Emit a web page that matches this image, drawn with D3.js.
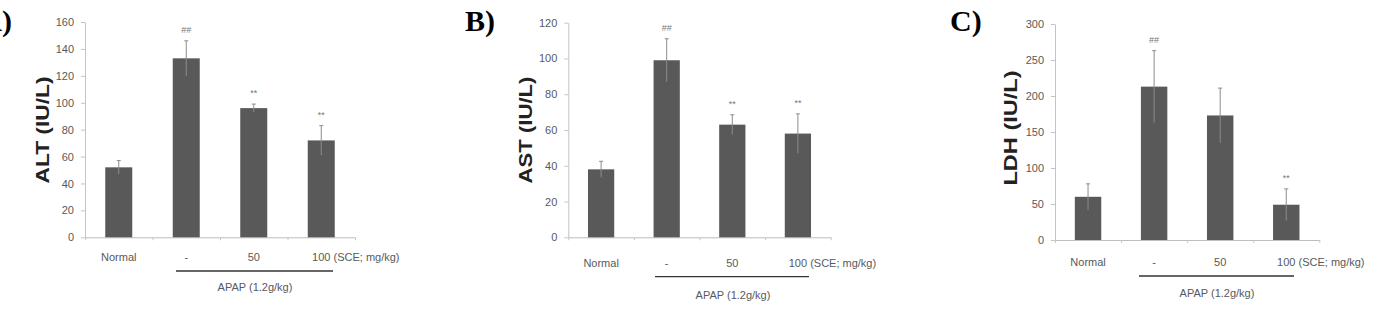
<!DOCTYPE html>
<html>
<head>
<meta charset="utf-8">
<script src="https://cdn.jsdelivr.net/npm/d3@7"></script>
<style>
  html, body { margin: 0; padding: 0; background: #fff; }
  svg { display: block; }
</style>
</head>
<body>
<svg id="chart" width="1378" height="309"></svg>
<script>
// ---------- data ----------
const categories = ["Normal", "-", "50", "100"];
const doseSuffix = " (SCE; mg/kg)";
const groupLabel = "APAP (1.2g/kg)";

const altValues = [52, 133, 96, 72];
const altErrors = [5, 13, 3, 11];
const altMarks  = ["", "##", "**", "**"];
const altTicks  = [0, 20, 40, 60, 80, 100, 120, 140, 160];

const astValues = [38, 99, 63, 58];
const astErrors = [4.5, 12, 5.5, 11];
const astMarks  = ["", "##", "**", "**"];
const astTicks  = [0, 20, 40, 60, 80, 100, 120];

const ldhValues = [60, 213, 173, 49];
const ldhErrors = [18, 50, 38, 22];
const ldhMarks  = ["", "##", "", "**"];
const ldhTicks  = [0, 50, 100, 150, 200, 250, 300];

const panelLetters = ["A)", "B)", "C)"];
const yTitles = ["ALT (IU/L)", "AST (IU/L)", "LDH (IU/L)"];

// ---------- layout ----------
const panels = [
  { values: altValues, errors: altErrors, marks: altMarks, ticks: altTicks,
    x0: 85, x1: 355, yTop: 22, yBot: 237.3,
    titleX: 42, titleY: 130, titleLen: 107,
    catY: 257, lineX0: 176, lineX1: 333, lineY: 271, grpX: 255, grpY: 287,
    letterX: 12, letterAnchor: "end" },
  { values: astValues, errors: astErrors, marks: astMarks, ticks: astTicks,
    x0: 568.3, x1: 830.7, yTop: 22.7, yBot: 237.3,
    titleX: 525, titleY: 130, titleLen: 107,
    catY: 263, lineX0: 655, lineX1: 809, lineY: 276.7, grpX: 733, grpY: 295,
    letterX: 465, letterAnchor: "start" },
  { values: ldhValues, errors: ldhErrors, marks: ldhMarks, ticks: ldhTicks,
    x0: 1055, x1: 1319.3, yTop: 24, yBot: 240,
    titleX: 1010, titleY: 128, titleLen: 115,
    catY: 261.7, lineX0: 1139, lineX1: 1294, lineY: 276, grpX: 1217, grpY: 293.3,
    letterX: 950, letterAnchor: "start" }
];

const svg = d3.select("#chart");
const textColor = "#595959";
const fontFam = "'Liberation Sans', Arial, sans-serif";

panels.forEach((p, i) => {
  const g = svg.append("g");
  const ticks = p.ticks;
  const y = d3.scaleLinear().domain([0, ticks[ticks.length - 1]]).range([p.yBot, p.yTop]);
  const x = d3.scaleBand().domain(categories).range([p.x0, p.x1])
    .paddingInner(0.6).paddingOuter(0.3);

  // y axis
  const ya = g.append("g").attr("transform", `translate(${p.x0},0)`)
    .call(d3.axisLeft(y).tickValues(ticks).tickSize(4).tickPadding(7).tickSizeOuter(0));
  ya.select(".domain").attr("stroke", "#c4c4c4");
  ya.selectAll(".tick line").attr("stroke", "#c4c4c4");
  ya.selectAll(".tick text").attr("fill", textColor).attr("font-size", 11)
    .attr("font-family", fontFam);

  // x axis line with boundary ticks
  const xb = d3.scaleLinear().domain([0, categories.length]).range([p.x0, p.x1]);
  const xa = g.append("g").attr("transform", `translate(0,${p.yBot})`)
    .call(d3.axisBottom(xb).ticks(categories.length).tickFormat("").tickSize(3).tickSizeOuter(0));
  xa.select(".domain").attr("stroke", "#bdbdbd");
  xa.selectAll(".tick line").attr("stroke", "#c8c8c8");

  // category labels
  const ca = g.append("g").attr("transform", `translate(0,${p.catY})`)
    .call(d3.axisBottom(x).tickSize(0).tickPadding(0));
  ca.select(".domain").remove();
  ca.selectAll(".tick text").attr("fill", textColor).attr("font-size", 11)
    .attr("font-family", fontFam).attr("dy", "0.35em").attr("y", 0);
  ca.selectAll(".tick text").filter((d, k, n) => k === categories.length - 1)
    .each(function () {
      const w = this.getComputedTextLength();
      d3.select(this).attr("text-anchor", "start").attr("x", -w / 2)
        .text(categories[categories.length - 1] + doseSuffix);
    });

  // bars
  g.selectAll("rect.bar").data(p.values).join("rect")
    .attr("class", "bar")
    .attr("x", (d, k) => x(categories[k]))
    .attr("width", x.bandwidth())
    .attr("y", d => y(d))
    .attr("height", d => p.yBot - y(d))
    .attr("fill", "#595959");

  // error bars
  const eb = g.selectAll("g.err").data(p.values).join("g").attr("class", "err");
  eb.append("line")
    .attr("x1", (d, k) => x(categories[k]) + x.bandwidth() / 2)
    .attr("x2", (d, k) => x(categories[k]) + x.bandwidth() / 2)
    .attr("y1", (d, k) => y(d - p.errors[k]))
    .attr("y2", (d, k) => y(d + p.errors[k]))
    .attr("stroke", "#8c8c8c").attr("stroke-width", 1);
  eb.append("line")
    .attr("x1", (d, k) => x(categories[k]) + x.bandwidth() / 2 - 2)
    .attr("x2", (d, k) => x(categories[k]) + x.bandwidth() / 2 + 2)
    .attr("y1", (d, k) => y(d + p.errors[k]))
    .attr("y2", (d, k) => y(d + p.errors[k]))
    .attr("stroke", "#8c8c8c").attr("stroke-width", 1);

  // significance marks
  g.selectAll("text.mark").data(p.marks).join("text")
    .attr("class", "mark")
    .attr("x", (d, k) => x(categories[k]) + x.bandwidth() / 2)
    .attr("y", (d, k) => y(p.values[k] + p.errors[k]) - 11)
    .attr("dy", "0.35em")
    .attr("text-anchor", "middle")
    .attr("font-size", 9).attr("font-family", fontFam)
    .attr("fill", "#777")
    .text(d => d);

  // y title
  g.append("text")
    .attr("transform", `translate(${p.titleX},${p.titleY}) rotate(-90)`)
    .attr("text-anchor", "middle").attr("dy", "0.35em")
    .attr("font-size", 19).attr("font-weight", "bold")
    .attr("font-family", fontFam).attr("fill", "#222")
    .attr("textLength", p.titleLen).attr("lengthAdjust", "spacingAndGlyphs")
    .text(yTitles[i]);

  // APAP group line and label
  g.append("line")
    .attr("x1", p.lineX0).attr("x2", p.lineX1)
    .attr("y1", p.lineY).attr("y2", p.lineY)
    .attr("stroke", "#333").attr("stroke-width", 1.3);
  g.append("text")
    .attr("x", p.grpX).attr("y", p.grpY).attr("dy", "0.35em")
    .attr("text-anchor", "middle")
    .attr("font-size", 11).attr("font-family", fontFam).attr("fill", textColor)
    .text(groupLabel);

  // panel letter
  g.append("text")
    .attr("x", p.letterX).attr("y", 31)
    .attr("text-anchor", p.letterAnchor)
    .attr("font-size", 30).attr("font-weight", "bold")
    .attr("font-family", "'Liberation Serif', 'Times New Roman', serif")
    .attr("fill", "#000")
    .text(panelLetters[i]);
});
</script>
</body>
</html>
